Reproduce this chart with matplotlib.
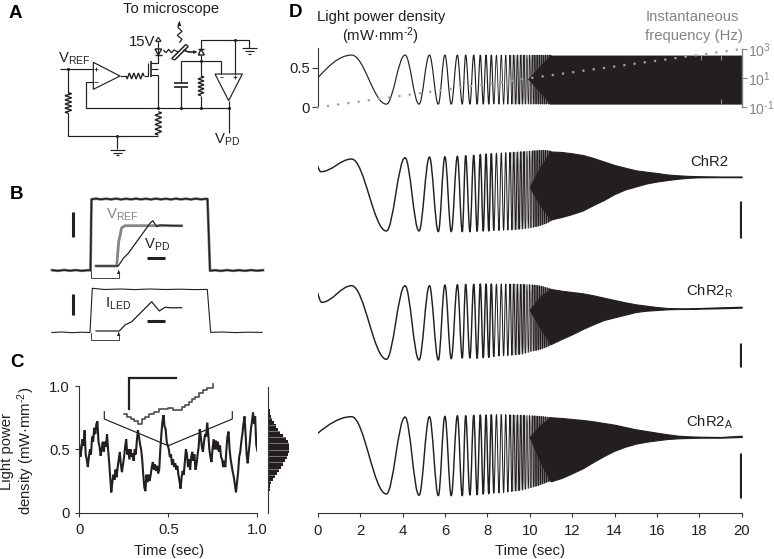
import numpy as np
import matplotlib
matplotlib.use('Agg')
import matplotlib.pyplot as plt
from matplotlib.path import Path
from matplotlib.patches import PathPatch, Polygon
from matplotlib.ticker import NullLocator

plt.rcParams['font.family'] = ['Liberation Sans', 'DejaVu Sans']
plt.rcParams['mathtext.fontset'] = 'custom'
plt.rcParams['mathtext.rm'] = 'Liberation Sans'
plt.rcParams['mathtext.default'] = 'rm'

W, H = 774, 559
INK = '#231f20'
GRAY = '#858585'
FS = 10.7

# --- panel C: noisy light power trace and its histogram
noise_power = [
    .54, .44, .50, .58, .53, .65, .46, .42, .36, .44, .50, .46, .60, .56, .67, .62, .70, .72,
    .56, .52, .45, .50, .56, .48, .56, .52, .62, .50, .40, .28, .16, .24, .30, .26, .34, .28,
    .36, .42, .48, .38, .32, .38, .44, .52, .58, .46, .50, .42, .50, .44, .47, .41, .50, .46,
    .57, .65, .60, .54, .50, .42, .30, .20, .17, .30, .24, .30, .25, .30, .36, .40, .34, .38,
    .33, .37, .31, .34, .50, .62, .72, .77, .68, .66, .56, .53, .50, .44, .46, .38, .42, .36,
    .39, .34, .37, .30, .25, .19, .28, .33, .30, .40, .50, .46, .36, .42, .34, .44, .48, .41,
    .46, .34, .38, .46, .52, .66, .60, .52, .48, .56, .62, .60, .71, .62, .50, .44, .40, .50,
    .58, .50, .57, .50, .56, .48, .53, .44, .42, .36, .41, .36, .50, .60, .64, .50, .42, .37,
    .32, .28, .22, .16, .24, .32, .44, .48, .56, .62, .70, .76, .62, .46, .39, .48, .56, .66,
    .72, .79, .70, .76, .54, .49]
hist_bins = [.0125, .0375, .0625, .0875, .1125, .1375, .1625, .1875, .2125, .2375,
             .2625, .2875, .3125, .3375, .3625, .3875, .4125, .4375, .4625, .4875,
             .5125, .5375, .5625, .5875, .6125, .6375, .6625, .6875, .7125, .7375,
             .7625, .7875, .8125, .8375, .8625, .8875, .9125, .9375, .9625, .9875]
hist_counts = [0, 0, .002, .005, .01, .02, .04, .07, .1, .15,
               .22, .31, .41, .51, .62, .72, .8, .87, .94, .98,
               1, .98, .93, .85, .72, .58, .45, .35, .26, .19,
               .14, .09, .06, .04, .025, .015, .008, .004, .002, 0]
hist_lines = [.2, .25, .3, .35, .4, .45, .5, .55, .6, .65, .7, .75]

# inset staircase of panel C, image pixels
inset_x = [124, 127.3, 130.7, 134, 138, 142, 145.3, 149.3, 154, 159.3, 168.3, 173.3,
           181.7, 185.3, 188.7, 191.7, 195, 199, 202.7, 206.7, 213.3]
inset_y = [414.3, 416.7, 419, 421.3, 424, 419, 416.7, 414.3, 411.7, 409.3, 408.3, 410,
           407.3, 405, 402.3, 399.3, 396.7, 393.3, 390, 387.7, 384.3]

# --- panel B: step responses, image pixels
vref_top_x = [52, 58, 64, 70, 76, 82, 88, 90.5, 91.5, 96, 101, 106, 111, 116, 121, 126, 131, 136, 141, 146, 151,
              156, 161, 166, 171, 176, 181, 186, 191, 196, 201, 206, 207.5, 210, 215, 221, 227, 233, 239, 245, 251, 257, 263]
vref_top_y = [270.2, 270.8, 270, 270.7, 270.1, 270.8, 270.2, 270.4, 199.3, 198.6, 199.4, 198.7, 199.4, 198.6, 199.5, 198.7,
              199.4, 198.6, 199.4, 198.7, 199.5, 198.6, 199.4, 198.7, 199.5, 198.6, 199.4, 198.7, 199.5, 198.6, 199.4, 198.8,
              199, 270.8, 270.2, 270.9, 270.1, 270.8, 270.2, 270.8, 270.1, 270.7, 270.2]
vref_zoom_x = [96, 116.7, 118.7, 121.7, 125, 181.7]
vref_zoom_y = [266, 266, 241.7, 227.7, 225.7, 225.7]
vpd_zoom_x = [96, 118.3, 123.3, 128.3, 150, 152.7, 156.7, 160, 170, 181.7]
vpd_zoom_y = [266, 266, 258.3, 253.3, 223.3, 220.7, 226.7, 225, 225.5, 226]
iled_top_x = [52, 62, 72, 82, 90, 92.3, 105, 120, 135, 150, 165, 180, 195, 207.3, 210.7, 222, 235, 248, 262]
iled_top_y = [332.5, 332, 332.7, 332.2, 332.5, 288.3, 289.5, 289, 289.6, 289, 289.5, 289.2, 289.6, 289.4, 332.4, 332, 332.6, 332.2, 332.4]
iled_zoom_x = [96, 119.3, 125, 131.7, 151.7, 159.3, 165, 172, 181.7]
iled_zoom_y = [331, 331, 325, 321.7, 301.7, 311, 307.3, 307.8, 307.7]

# --- panel D: chirp stimulus and opsin responses
peak_t = [1.6, 4.12, 5.27, 6.0, 6.59, 6.98, 7.36, 7.67, 7.94, 8.19, 8.43, 8.66, 8.87, 9.07, 9.25,
          9.42, 9.58, 9.73, 9.87, 10.0, 10.12, 10.24, 10.35, 10.46, 10.56, 10.66, 10.75, 10.84, 10.92, 11.0]
trough_t = [3.24, 4.78, 5.69, 6.3, 6.82, 7.18, 7.52, 7.81, 8.07, 8.31, 8.55, 8.77, 8.97, 9.16, 9.34,
            9.5, 9.66, 9.8, 9.94, 10.06, 10.18, 10.3, 10.41, 10.51, 10.61, 10.71, 10.8, 10.88, 10.96, 11.04]
freq_t = [0, 20]
freq_hz = [0.1, 1000]
time_ticks = [0, 2, 4, 6, 8, 10, 12, 14, 16, 18, 20]

stim_head_t = [0]
stim_head = [0.37]
stim_peak = [.66] * 30
stim_trough = [.04] * 30
stim_dense_t = [9.9, 10.96, 20]
stim_dense_up = [.36, .66, .66]
stim_dense_lo = [.36, .04, .04]
stim_glitch_t = [18.1, 19.0]

# response panels are in image rows, there is no unit on them but the scale bar
dense_t = [10, 10.5, 11, 11.5, 12, 12.5, 13, 13.5, 14, 14.5, 15, 15.5, 16, 16.5, 17, 17.5, 18, 19, 20]

chr2_head_t = [0, 0.15]
chr2_head = [166, 171.7]
chr2_peak = [159, 157.7, 157, 156.7, 156.3, 155.7, 155.3, 154.5, 154, 153.7, 153.3, 153, 152.7, 152.5, 152.2,
             152, 151.7, 151.5, 151.3, 151, 150.8, 150.6, 150.5, 150.4, 150.3, 150.3, 150.4, 150.6, 150.8, 151]
chr2_trough = [231, 231, 231.7, 231.7, 231.7, 231.7, 231.3, 231, 231, 230.7, 230.5, 230.2, 230, 229.8, 229.5,
               229.2, 229, 228.6, 228.3, 227.8, 227.3, 226.8, 226.2, 225.5, 224.8, 224, 223.2, 222.4, 221.4, 220.5]
chr2_up = [187, 167, 151.5, 152, 153.3, 155, 158, 161.5, 165, 167.7, 170.3, 171.7, 173, 174.5, 175.3, 175.9, 176.2, 176.5, 176.5]
chr2_lo = [187, 205, 219.5, 217, 214, 210.5, 205, 200, 194, 189.5, 186.5, 183.5, 181.5, 180, 178.7, 177.8, 177.3, 177.2, 177.2]

chr2r_head_t = [0, 0.19]
chr2r_head = [292.7, 302.3]
chr2r_peak = [285.7, 285.7, 285.7, 285, 284.7, 284.3, 284.3, 284, 284, 284, 284, 284, 284, 284, 284,
              284.2, 284.3, 284.4, 284.5, 284.6, 284.8, 285, 285.3, 285.7, 286.2, 286.7, 287.2, 287.8, 288.4, 289]
chr2r_trough = [359.3, 360, 360, 358.7, 358, 358, 358.3, 357.7, 357.3, 357, 356, 355.8, 355.5, 355.2, 354.8,
                354.4, 354, 353.2, 352.5, 351.5, 351, 350.5, 350, 349.3, 348.6, 347.8, 347, 346.2, 345.3, 344.5]
chr2r_up = [310, 296.7, 289, 290.7, 292, 293.3, 295.3, 297.7, 300, 302.3, 304.3, 305.7, 307, 308, 308.3, 308.3, 308, 307.3, 306.7]
chr2r_lo = [310, 328, 344, 339, 334.3, 329, 324.3, 320, 317.3, 314.7, 312, 310.7, 310, 309.3, 309, 309, 308.7, 308.3, 307.7]

chr2a_head_t = [0]
chr2a_head = [433.3]
chr2a_peak = [416.7, 417, 416.7, 416.3, 415.7, 415.7, 415.3, 415, 415, 414.8, 414.7, 414.7, 414.7, 414.8, 415,
              415, 415.2, 415.3, 415.5, 415.6, 415.7, 415.8, 416, 416.2, 416.4, 416.6, 416.8, 417, 417.2, 417.3]
chr2a_trough = [494, 495.3, 495.7, 495.7, 495.7, 495, 494.7, 494, 493.7, 493.3, 492.9, 492.5, 492, 491.5, 491,
                490.5, 490, 489.3, 488.5, 487.8, 487, 486.2, 485.5, 484.8, 484, 483.2, 482.4, 481.8, 481.3, 481]
chr2a_up = [437, 425, 417.3, 418, 419, 420, 421.3, 423, 424.7, 427, 429.3, 431, 432.7, 434.3, 435.7, 436.3, 436.7, 437, 435.7]
chr2a_lo = [437, 461.7, 481.3, 478, 473.3, 468.3, 462, 456, 450.7, 446.7, 443.7, 441.7, 440.3, 439, 438.3, 438, 437.7, 437.7, 437]

# the chirp lines get finer as the cycles get closer together
sweep_cuts = [0, 10, 18, 30]
shade_layers = [(13, 0.25), (20, 0.45)]


def px_axes(left, top, right, bottom):
    return fig.add_axes([left / W, 1 - bottom / H, (right - left) / W, (bottom - top) / H])


def sweep_patch(head_t, head_y, p_t, tr_t, p_y, tr_y, lw):
    # smooth curve through the read extrema, flat tangent on each of them
    t = list(head_t)
    y = list(head_y)
    for a, b, c, d in zip(p_t, p_y, tr_t, tr_y):
        t += [a, c]
        y += [b, d]
    verts = [(t[0], y[0])]
    codes = [Path.MOVETO]
    for i in range(len(t) - 1):
        dt = t[i + 1] - t[i]
        if i == 0 and head_t[0] == 0:
            c1 = (t[0] + 0.3 * dt, y[0] + 0.5 * (y[1] - y[0]))
        else:
            c1 = (t[i] + 0.364 * dt, y[i])
        verts += [c1, (t[i + 1] - 0.364 * dt, y[i + 1]), (t[i + 1], y[i + 1])]
        codes += [Path.CURVE4] * 3
    return PathPatch(Path(verts, codes), fill=False, lw=lw, ec=INK, joinstyle='round')


def draw_sweep(ax, head_t, head_y, p_y, tr_y, widths):
    for k, lw in enumerate(widths):
        a, b = sweep_cuts[k], sweep_cuts[k + 1]
        if k == 0:
            start_t, start_y = head_t, head_y
        else:
            start_t, start_y = [trough_t[a - 1]], [tr_y[a - 1]]
        ax.add_patch(sweep_patch(start_t, start_y, peak_t[a:b], trough_t[a:b], p_y[a:b], tr_y[a:b], lw))
    # lines too close to resolve read as gray in the figure
    for first, alpha in shade_layers:
        upper = list(zip(peak_t[first:], p_y[first:]))
        lower = list(zip(trough_t[first:], tr_y[first:]))
        ax.add_patch(Polygon(upper + lower[::-1], color=INK, alpha=alpha, lw=0))


fig = plt.figure(figsize=(W / 100, H / 100), dpi=100)

# panel D, stimulus
ax_stim = px_axes(317.7, 47.7, 741.7, 107.3)
ax_stim.set_xlim(0, 20)
ax_stim.set_ylim(0, 0.753)
draw_sweep(ax_stim, stim_head_t, stim_head, stim_peak, stim_trough, [0.85, 0.65, 0.5])
ax_stim.fill_between(stim_dense_t, stim_dense_lo, stim_dense_up, color=INK, lw=0)
ax_stim.vlines(stim_glitch_t, .6, .66, color='#aaaaaa', lw=0.6)
ax_stim.vlines(stim_glitch_t[1], .04, .1, color='#aaaaaa', lw=0.6)
for s in ['top', 'right', 'bottom']:
    ax_stim.spines[s].set_visible(False)
ax_stim.spines['left'].set_color('#333333')
ax_stim.set_xticks([])
ax_stim.set_yticks([0, 0.5])
ax_stim.set_yticklabels(['0', '0.5'], fontsize=FS, color=INK)
ax_stim.tick_params(axis='y', length=4.3, width=0.8, color='#333333', pad=1.5)

ax_freq = px_axes(317.7, 49, 741.7, 107.3)
ax_freq.patch.set_visible(False)
ax_freq.set_xlim(0, 20)
ax_freq.set_yscale('log')
ax_freq.set_ylim(0.1, 1000)
ax_freq.plot(freq_t, freq_hz, color='#a0a0a0', lw=1.9, linestyle=(0, (0.01, 3.9)), dash_capstyle='round', clip_on=False)
for s in ['top', 'left', 'bottom']:
    ax_freq.spines[s].set_visible(False)
ax_freq.spines['right'].set_color(GRAY)
ax_freq.spines['right'].set_linewidth(1.0)
ax_freq.set_xticks([])
ax_freq.yaxis.tick_right()
ax_freq.set_yticks([0.1, 10, 1000])
ax_freq.set_yticklabels(['10$^{\u20101}$', '10$^{1}$', '10$^{3}$'], fontsize=10.2, color=GRAY)
ax_freq.yaxis.set_minor_locator(NullLocator())
ax_freq.tick_params(axis='y', length=3.6, width=0.8, color=GRAY, pad=1)

# panel D, responses
panels = [
    (145, 240, chr2_head_t, chr2_head, chr2_peak, chr2_trough, chr2_up, chr2_lo, 200.7, 237.7),
    (275, 370, chr2r_head_t, chr2r_head, chr2r_peak, chr2r_trough, chr2r_up, chr2r_lo, 342.7, 367.3),
    (405, 505, chr2a_head_t, chr2a_head, chr2a_peak, chr2a_trough, chr2a_up, chr2a_lo, 452.7, 497.7),
]
for top, bottom, head_t, head, pk, tr, up, lo, bar0, bar1 in panels:
    ax = px_axes(317.7, top, 741.7, bottom)
    ax.set_xlim(0, 20)
    ax.set_ylim(bottom, top)
    ax.axis('off')
    draw_sweep(ax, head_t, head, pk, tr, [1.05, 0.75, 0.5])
    ax.fill_between(dense_t, lo, up, color=INK, lw=0.8)
    ax.vlines(19.95, bar0, bar1, color=INK, lw=2.3)

ax_time = px_axes(317.7, 500, 741.7, 512.7)
ax_time.patch.set_visible(False)
ax_time.set_xlim(0, 20)
ax_time.set_yticks([])
for s in ['top', 'left', 'right']:
    ax_time.spines[s].set_visible(False)
ax_time.spines['bottom'].set_color('#333333')
ax_time.set_xticks(time_ticks)
ax_time.set_xticklabels([str(v) for v in time_ticks], fontsize=FS, color=INK)
ax_time.tick_params(axis='x', length=3, width=0.8, color='#333333', pad=5)

# panel C
ax_c = px_axes(79.3, 386, 257.3, 512.7)
ax_c.set_xlim(0, 1)
ax_c.set_ylim(0, 1)
ax_c.plot(np.linspace(0, 1, len(noise_power)), noise_power, color=INK, lw=1.5, solid_joinstyle='miter')
for s in ['top', 'right']:
    ax_c.spines[s].set_visible(False)
for s in ['left', 'bottom']:
    ax_c.spines[s].set_color('#333333')
ax_c.set_xticks([0, 0.5, 1])
ax_c.set_xticklabels(['0', '0.5', '1.0'], fontsize=FS, color=INK)
ax_c.set_yticks([0, 0.5, 1])
ax_c.set_yticklabels(['0', '0.5', '1.0'], fontsize=FS, color=INK)
ax_c.tick_params(length=2.7, width=0.8, color='#333333', pad=5)
ax_c.tick_params(axis='y', pad=4)

ax_h = px_axes(268.3, 386.7, 289.3, 512.7)
ax_h.set_xlim(0, 1)
ax_h.set_ylim(0, 1)
ax_h.barh(hist_bins, hist_counts, height=0.026, color=INK, lw=0)
ax_h.hlines(hist_lines, 0, 1, color='white', alpha=0.55, lw=0.5)
for s in ['top', 'right', 'bottom']:
    ax_h.spines[s].set_visible(False)
ax_h.spines['left'].set_color('#333333')
ax_h.set_xticks([])
ax_h.set_yticks([])

# overlay in image pixels: schematic, panel B, labels
ov = fig.add_axes([0, 0, 1, 1], zorder=10)
ov.set_xlim(0, W)
ov.set_ylim(H, 0)
ov.axis('off')
ov.patch.set_visible(False)


def wire(pts, lw=0.85, color=INK):
    xy = np.array(pts, dtype=float) / 3
    ov.plot(xy[:, 0], xy[:, 1], color=color, lw=lw, solid_capstyle='butt', solid_joinstyle='miter')


def dots(pts):
    xy = np.array(pts, dtype=float) / 3
    ov.scatter(xy[:, 0], xy[:, 1], s=5, color=INK, lw=0, zorder=3)


def resistor(x0, y0, x1, y1, bumps=5, amp=10):
    pts = [(x0, y0)]
    for i in range(2 * bumps):
        f = (i + 0.5) / (2 * bumps)
        side = amp if i % 2 == 0 else -amp
        if x0 == x1:
            pts.append((x0 + side, y0 + f * (y1 - y0)))
        else:
            pts.append((x0 + f * (x1 - x0), y0 + side))
    pts.append((x1, y1))
    wire(pts, lw=1.0)


def ground(x, y, half=22):
    wire([(x - half, y), (x + half, y)])
    wire([(x - half * 0.6, y + 8), (x + half * 0.6, y + 8)])
    wire([(x - half * 0.25, y + 16), (x + half * 0.25, y + 16)])


# op amp loop
wire([(180, 206), (280, 206)])
wire([(280, 187), (360, 228), (280, 268), (280, 187)])
wire([(283, 207), (295, 207)], lw=0.6)
wire([(289, 201), (289, 213)], lw=0.6)
wire([(283, 247), (295, 247)], lw=0.6)
wire([(280, 245), (258, 245), (258, 325), (686, 325)])
wire([(360, 228), (378, 228)])
resistor(378, 228, 432, 228, 4, 9)
wire([(432, 228), (444, 228), (444, 190)])
wire([(452, 184), (452, 230)], lw=1.2)
wire([(452, 190), (475, 190), (475, 122)])
wire([(452, 225), (475, 225), (475, 325)])
wire([(452, 207), (475, 207)])
wire([(205, 206), (205, 278)])
resistor(205, 278, 205, 340, 5, 10)
wire([(205, 340), (205, 408), (475, 408)])
resistor(475, 335, 475, 405, 5, 10)
wire([(352, 408), (352, 448)])
ground(352, 450)
# supply and LED
wire([(467, 124), (475, 112), (483, 124), (467, 124)])
wire([(465, 147), (485, 147), (475, 165), (465, 147)], lw=1.0)
wire([(465, 165), (485, 165)], lw=1.0)
# photodiode side
wire([(595, 165), (613, 165), (603, 147), (595, 165)], lw=1.0)
wire([(593, 147), (613, 147)], lw=1.0)
wire([(603, 147), (603, 120), (748, 120), (748, 145)])
ground(748, 145)
wire([(603, 165), (603, 228)])
resistor(603, 228, 603, 287, 5, 9)
wire([(603, 287), (603, 325)])
wire([(543, 250), (543, 183), (664, 183), (664, 222)])
wire([(522, 250), (565, 250)], lw=1.2)
wire([(522, 262), (565, 262)], lw=1.2)
wire([(543, 262), (543, 325)])
wire([(706, 120), (706, 222)])
wire([(645, 222), (727, 222), (686, 302), (645, 222)])
wire([(686, 302), (686, 400)])
wire([(660, 232), (669, 232)], lw=0.6)
wire([(700, 232), (712, 232)], lw=0.6)
wire([(706, 226), (706, 238)], lw=0.6)
dots([(205, 206), (352, 408), (475, 325), (543, 325), (603, 325), (686, 325), (603, 183), (706, 120)])
# beam splitter and light paths
wire([(515, 176), (558, 133)], lw=1.1)
wire([(524, 180), (565, 139)], lw=1.1)
wire([(515, 176), (524, 180)])
wire([(558, 133), (565, 139)])
wire([(490, 150), (498, 158), (506, 148), (514, 158), (522, 150), (535, 156)], lw=0.9)
wire([(550, 150), (566, 156), (588, 156)], lw=1.2)
wire([(538, 128), (546, 118), (532, 106), (546, 94), (534, 82), (538, 68)], lw=0.9)
ov.add_patch(Polygon(np.array([(532, 78), (544, 78), (538, 62)]) / 3, color=INK, lw=0))
ov.add_patch(Polygon(np.array([(580, 150), (580, 162), (592, 156)]) / 3, color=INK, lw=0))

# panel B traces
ov.plot(vref_top_x, vref_top_y, color=GRAY, lw=2.0)
ov.plot(vref_top_x, vref_top_y, color=INK, lw=1.1)
ov.plot(vref_zoom_x, vref_zoom_y, color=GRAY, lw=2.0)
ov.plot(vpd_zoom_x, vpd_zoom_y, color=INK, lw=0.9)
ov.plot(iled_top_x, iled_top_y, color=INK, lw=0.8)
ov.plot(iled_zoom_x, iled_zoom_y, color=INK, lw=0.9)
ov.plot([90.7, 90.7, 118.7, 118.7], [271, 278, 278, 274], color='#444444', lw=0.7)
ov.plot([90.7, 90.7, 118.7, 118.7], [333, 340, 340, 336], color='#444444', lw=0.7)
ov.add_patch(Polygon([(117, 274), (120.4, 274), (118.7, 269.5)], color=INK, lw=0))
ov.add_patch(Polygon([(117, 336), (120.4, 336), (118.7, 331.5)], color=INK, lw=0))
ov.plot([73, 73], [212.3, 237.3], color=INK, lw=2.2, solid_capstyle='butt')
ov.plot([73, 73], [294, 315], color=INK, lw=2.2, solid_capstyle='butt')
ov.plot([146.7, 164.7], [258.3, 258.3], color=INK, lw=2.2, solid_capstyle='butt')
ov.plot([147, 164.7], [321, 321], color=INK, lw=2.2, solid_capstyle='butt')

# panel C inset
ov.plot(inset_x, inset_y, color='#4d4d4d', lw=1.2, drawstyle='steps-post')
ov.plot([129.3, 129.3, 175.7], [409, 377.7, 377.7], color=INK, lw=1.6, solid_joinstyle='miter')
ov.plot([104.3, 104.3, 168.3, 232.3, 232.3], [411.7, 419, 445.7, 419, 411.7], color=INK, lw=0.85)

# letters and labels
for letter, x, y in [('A', 9, 17.5), ('B', 10, 199), ('C', 10, 367), ('D', 289, 17)]:
    ov.text(x, y, letter, fontsize=13.5, fontweight='bold', color='black', va='baseline')
ov.text(170.7, 9.5, 'To microscope', fontsize=FS, color=INK, ha='center', va='center')
ov.text(129, 42, '15V', fontsize=FS, color=INK, va='center')
ov.text(58, 63, r'V$_{\mathrm{REF}}$', fontsize=FS, color=INK, va='baseline')
ov.text(214, 143.5, r'V$_{\mathrm{PD}}$', fontsize=FS, color=INK, va='baseline')
ov.text(106, 218.3, r'V$_{\mathrm{REF}}$', fontsize=FS, color=GRAY, va='baseline')
ov.text(144, 249, r'V$_{\mathrm{PD}}$', fontsize=FS, color=INK, va='baseline')
ov.text(105, 307.7, r'I$_{\mathrm{LED}}$', fontsize=FS, color=INK, va='baseline')
ov.text(7, 451, 'Light power', fontsize=FS, color=INK, rotation=90, ha='center', va='center')
ov.text(26, 451, 'density (mW·mm$^{\u20102}$)', fontsize=FS, color=INK, rotation=90, ha='center', va='center')
ov.text(168.5, 550.7, 'Time (sec)', fontsize=FS, color=INK, ha='center', va='center')
ov.text(530, 550.7, 'Time (sec)', fontsize=FS, color=INK, ha='center', va='center')
ov.text(381, 17, 'Light power density', fontsize=FS, color=INK, ha='center', va='center')
ov.text(381, 36, '(mW·mm$^{\u20102}$)', fontsize=FS, color=INK, ha='center', va='center')
ov.text(692, 17, 'Instantaneous', fontsize=FS, color=GRAY, ha='center', va='center')
ov.text(694, 36, 'frequency (Hz)', fontsize=FS, color=GRAY, ha='center', va='center')
ov.text(690, 166, 'ChR2', fontsize=FS, color=INK, va='baseline')
ov.text(686, 296, r'ChR2$_{\mathrm{R}}$', fontsize=FS, color=INK, va='baseline')
ov.text(686, 426.7, r'ChR2$_{\mathrm{A}}$', fontsize=FS, color=INK, va='baseline')

fig.savefig('out.png', dpi=100)
